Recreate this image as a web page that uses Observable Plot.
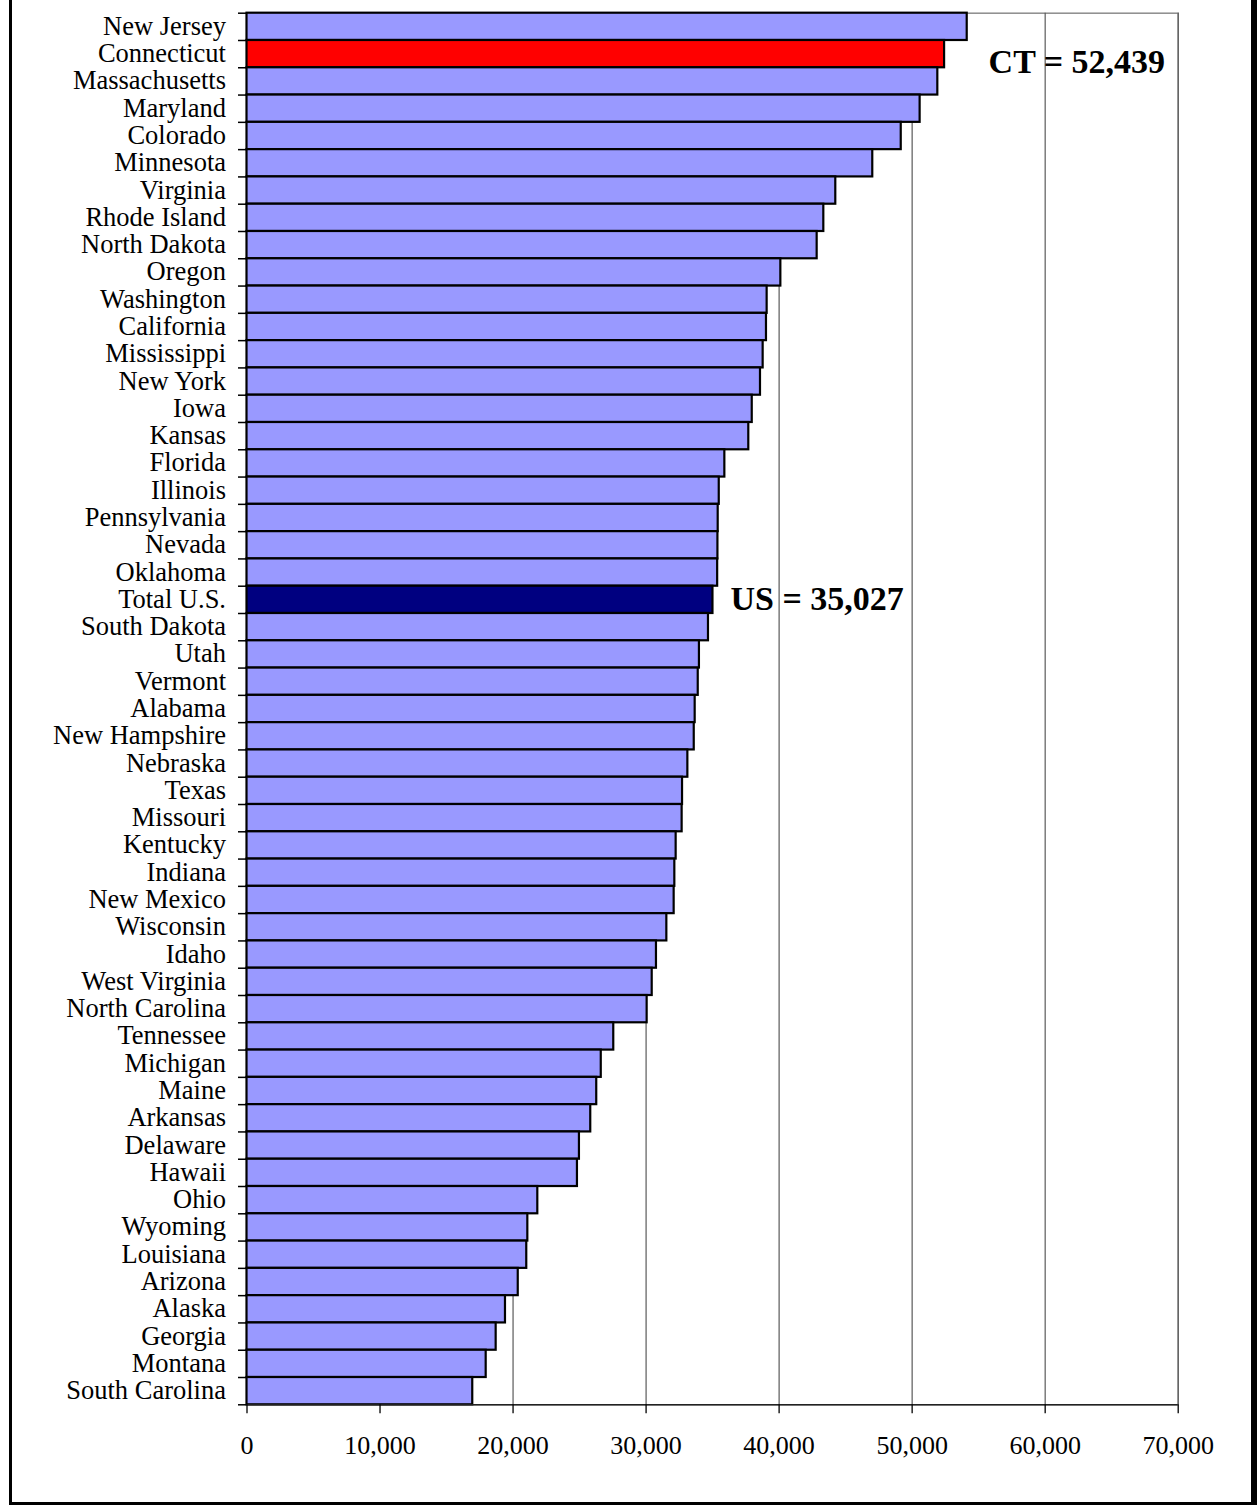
<!DOCTYPE html>
<html>
<head>
<meta charset="utf-8">
<script src="https://cdn.jsdelivr.net/npm/d3@7"></script>
<script src="https://cdn.jsdelivr.net/npm/@observablehq/plot@0.6"></script>
<style>
  html, body { margin: 0; padding: 0; background: #fff; overflow: hidden; }
  #wrap { position: relative; width: 1257px; height: 1505px; }
  #chart svg { display: block; }
  #border {
    position: absolute; left: 9px; top: -10px; width: 1248px; height: 1515px;
    box-sizing: border-box; border-style: solid; border-color: #000;
    border-width: 3px 6px 3px 3px; pointer-events: none;
  }
</style>
</head>
<body>
<div id="wrap">
  <div id="chart"></div>
  <div id="border"></div>
</div>
<script>
// Per-capita figures by state, ranked highest to lowest, with the national total in place
const states = [
  "New Jersey", "Connecticut", "Massachusetts", "Maryland", "Colorado", "Minnesota",
  "Virginia", "Rhode Island", "North Dakota", "Oregon", "Washington", "California",
  "Mississippi", "New York", "Iowa", "Kansas", "Florida", "Illinois", "Pennsylvania",
  "Nevada", "Oklahoma", "Total U.S.", "South Dakota", "Utah", "Vermont", "Alabama",
  "New Hampshire", "Nebraska", "Texas", "Missouri", "Kentucky", "Indiana", "New Mexico",
  "Wisconsin", "Idaho", "West Virginia", "North Carolina", "Tennessee", "Michigan",
  "Maine", "Arkansas", "Delaware", "Hawaii", "Ohio", "Wyoming", "Louisiana", "Arizona",
  "Alaska", "Georgia", "Montana", "South Carolina"
];
const values = [
  54140, 52439, 51930, 50600, 49180, 47040,
  44260, 43360, 42860, 40130, 39100, 39050,
  38800, 38600, 37980, 37720, 35920, 35500, 35420,
  35400, 35380, 35027, 34690, 34010, 33920, 33690,
  33620, 33140, 32740, 32710, 32260, 32160, 32110,
  31560, 30780, 30460, 30080, 27570, 26630,
  26290, 25840, 24990, 24840, 21860, 21110, 21030, 20390,
  19430, 18730, 17980, 16970
];
const xTicks = [0, 10000, 20000, 30000, 40000, 50000, 60000, 70000];

// Highlighted rows
const stateName = "Connecticut";
const stateTag = "CT";
const totalName = "Total U.S.";
const totalTag = "US";

const barColor = "#9999FF";
const stateColor = "#FF0000";
const totalColor = "#000080";

const rows = states.map((name, i) => ({name, value: values[i]}));
const fmt = d3.format(",");

const W = 1257, H = 1505;
const mTop = 12.7, mBottom = 100.7, mLeft = 246.5, mRight = 79.3;
const bw = (H - mTop - mBottom) / states.length;

const fillOf = d => d.name === stateName ? stateColor : d.name === totalName ? totalColor : barColor;
const stateRow = rows.filter(d => d.name === stateName);
const totalRow = rows.filter(d => d.name === totalName);

const chart = Plot.plot({
  width: W,
  height: H,
  marginTop: mTop,
  marginBottom: mBottom,
  marginLeft: mLeft,
  marginRight: mRight,
  style: {fontFamily: "'Liberation Serif', 'Times New Roman', serif", color: "#000", background: "#fff"},
  x: {domain: [0, 70000], label: null},
  y: {domain: states, padding: 0, round: false, label: null},
  marks: [
    Plot.frame({stroke: "#8c8c8c", strokeWidth: 1.5}),
    Plot.gridX(xTicks.slice(1), {stroke: "#5a5a5a", strokeOpacity: 1, strokeWidth: 1.2}),
    Plot.barX(rows, {
      x: "value", y: "name", fill: fillOf,
      stroke: "#000", strokeWidth: 2.2, insetTop: 0, insetBottom: 0
    }),
    // tick marks on the band boundaries of the category axis
    Plot.axisY(states, {tickSize: 8.5, tickFormat: () => "", dy: -bw / 2, strokeWidth: 1.5, label: null}),
    Plot.axisY(states.slice(-1), {tickSize: 8.5, tickFormat: () => "", dy: bw / 2, strokeWidth: 1.5, label: null}),
    // baseline along the bottom of the plot area
    Plot.ruleY(states.slice(-1), {dy: bw / 2, stroke: "#222", strokeWidth: 1.6}),
    Plot.axisX(xTicks, {
      tickSize: 9, tickPadding: 22, tickFormat: fmt, fontSize: 26, strokeWidth: 1.3, label: null
    }),
    Plot.axisY({tickSize: 0, tickPadding: 21, fontSize: 26.5, dy: -0.5, label: null}),
    Plot.text(stateRow, {
      x: "value", y: "name", text: d => `${stateTag} = ${fmt(d.value)}`,
      textAnchor: "start", dx: 44, dy: 8, fontSize: 34, fontWeight: "bold", fill: "#000"
    }),
    Plot.text(totalRow, {
      x: "value", y: "name", text: d => `${totalTag} = ${fmt(d.value)}`,
      textAnchor: "start", dx: 17.5, dy: -1, fontSize: 34, fontWeight: "bold", fill: "#000"
    })
  ]
});

document.getElementById("chart").appendChild(chart);
</script>
</body>
</html>
